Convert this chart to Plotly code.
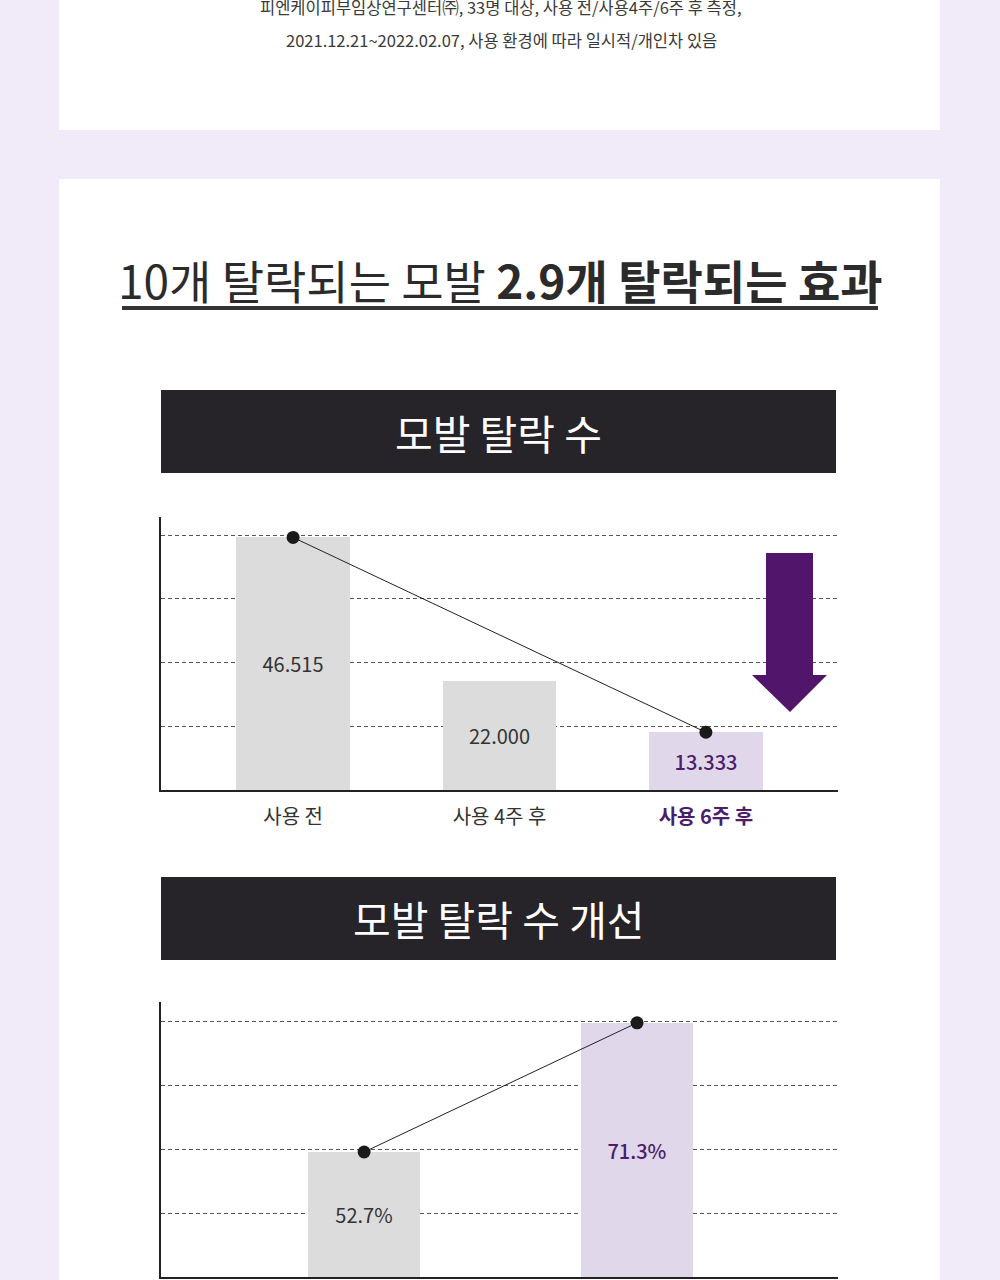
import plotly.graph_objects as go

W, H = 1000, 1280

# ---------------- data / text ----------------
NOTE_LINES = [
    "피엔케이피부임상연구센터㈜, 33명 대상, 사용 전/사용4주/6주 후 측정,",
    "2021.12.21~2022.02.07, 사용 환경에 따라 일시적/개인차 있음",
]
TITLE_REGULAR = "10개 탈락되는 모발"
TITLE_BOLD = "2.9개 탈락되는 효과"
BANNER1 = "모발 탈락 수"
BANNER2 = "모발 탈락 수 개선"

CATS1 = ["사용 전", "사용 4주 후", "사용 6주 후"]
VALS1 = [46.515, 22.000, 13.333]
LABELS1 = ["46.515", "22.000", "13.333"]

CATS2 = ["사용 4주 후", "사용 6주 후"]
VALS2 = [52.7, 71.3]
LABELS2 = ["52.7%", "71.3%"]

# ---------------- styles ----------------
FONT = "Noto Sans CJK KR"
BG = "#F1EBF9"
GRAY_BAR = "#DCDCDC"
LAV_BAR = "#E1D7EA"
PURPLE = "#4B1D6B"
ARROW = "#52156C"
DARK = "#262329"
TXT = "#333333"

Y1_FLOOR, Y1_TOP = 3.5, 50.0
Y2_FLOOR, Y2_TOP = 34.7, 74.3


def px(x):
    return x / W


def py(y):
    return 1 - y / H


fig = go.Figure()

# chart 1 bars
fig.add_trace(go.Bar(
    x=CATS1, y=[v - Y1_FLOOR for v in VALS1], base=Y1_FLOOR,
    marker=dict(color=[GRAY_BAR, GRAY_BAR, LAV_BAR], line=dict(width=0)),
    width=0.55,
    text=LABELS1, textposition="inside", insidetextanchor="middle", textangle=0,
    textfont=dict(family=FONT, size=20, color=[TXT, TXT, PURPLE], weight=[400, 400, 500]),
    xaxis="x", yaxis="y", hoverinfo="skip",
))
fig.add_trace(go.Scatter(
    x=[CATS1[0], CATS1[2]], y=[VALS1[0], VALS1[2]],
    mode="lines+markers", line=dict(color="#222222", width=1),
    marker=dict(size=13, color="#1a1a1a"), cliponaxis=False,
    xaxis="x", yaxis="y", hoverinfo="skip",
))

# chart 2 bars
fig.add_trace(go.Bar(
    x=CATS2, y=[v - Y2_FLOOR for v in VALS2], base=Y2_FLOOR,
    marker=dict(color=[GRAY_BAR, LAV_BAR], line=dict(width=0)),
    width=0.41,
    text=LABELS2, textposition="inside", insidetextanchor="middle", textangle=0,
    textfont=dict(family=FONT, size=20, color=[TXT, PURPLE], weight=[400, 500]),
    xaxis="x2", yaxis="y2", hoverinfo="skip",
))
fig.add_trace(go.Scatter(
    x=CATS2, y=VALS2,
    mode="lines+markers", line=dict(color="#222222", width=1),
    marker=dict(size=13, color="#1a1a1a"), cliponaxis=False,
    xaxis="x2", yaxis="y2", hoverinfo="skip",
))

ticktext1 = [CATS1[0], CATS1[1], f"<span style='color:{PURPLE}'><b>{CATS1[2]}</b></span>"]

common_y = dict(
    showline=True, linecolor="#222222", linewidth=1.5,
    showgrid=True, gridcolor="#555555", gridwidth=1, griddash="4px,3px",
    tickmode="linear", showticklabels=False, ticks="", zeroline=False,
    fixedrange=True,
)

fig.update_layout(
    width=W, height=H, autosize=False,
    margin=dict(l=0, r=0, t=0, b=0),
    paper_bgcolor=BG, plot_bgcolor="rgba(0,0,0,0)",
    showlegend=False, bargap=0,
    font=dict(family=FONT, color=TXT),
    xaxis=dict(
        domain=[px(161), px(838)], range=[-0.64, 2.64], type="category",
        anchor="y", showline=True, linecolor="#222222", linewidth=2,
        showgrid=False, ticks="outside", ticklen=8, tickcolor="rgba(0,0,0,0)",
        tickvals=CATS1, ticktext=ticktext1,
        tickfont=dict(family=FONT, size=20, color=TXT), fixedrange=True,
    ),
    yaxis=dict(
        domain=[py(790), py(517)], range=[Y1_FLOOR, Y1_TOP], anchor="x",
        tick0=Y1_FLOOR, dtick=10.85, **common_y,
    ),
    xaxis2=dict(
        domain=[px(161), px(838)], range=[-0.744, 1.736], type="category",
        anchor="y2", showline=True, linecolor="#222222", linewidth=2,
        showgrid=False, showticklabels=False, ticks="", fixedrange=True,
    ),
    yaxis2=dict(
        domain=[py(1277), py(1002)], range=[Y2_FLOOR, Y2_TOP], anchor="x2",
        tick0=Y2_FLOOR, dtick=9.2, **common_y,
    ),
)

shapes = []
# white panels
shapes.append(dict(type="rect", xref="paper", yref="paper", layer="below",
                   x0=px(59), x1=px(940), y0=py(130), y1=py(-5),
                   fillcolor="white", line=dict(width=0)))
shapes.append(dict(type="rect", xref="paper", yref="paper", layer="below",
                   x0=px(59), x1=px(940), y0=py(1285), y1=py(179),
                   fillcolor="white", line=dict(width=0)))
# title underline
shapes.append(dict(type="rect", xref="paper", yref="paper",
                   x0=px(122), x1=px(878), y0=py(310), y1=py(306),
                   fillcolor="#333333", line=dict(width=0)))
# banners
for top in (390, 877):
    shapes.append(dict(type="rect", xref="paper", yref="paper",
                       x0=px(161), x1=px(836), y0=py(top + 83), y1=py(top),
                       fillcolor=DARK, line=dict(width=0)))
# decorative down arrow
pts = [(766, 553), (813, 553), (813, 675), (827, 675), (790, 712), (752, 675), (766, 675)]
path = "M " + " L ".join(f"{px(x):.4f},{py(y):.4f}" for x, y in pts) + " Z"
shapes.append(dict(type="path", xref="paper", yref="paper", path=path,
                   fillcolor=ARROW, line=dict(width=0)))
fig.update_layout(shapes=shapes)

ann = []
for text, y in zip(NOTE_LINES, (7, 40)):
    ann.append(dict(text=text, x=0.5015, y=py(y), xref="paper", yref="paper",
                    xanchor="center", yanchor="middle", showarrow=False,
                    font=dict(family=FONT, size=16.5, color="#3a3a3a")))
ann.append(dict(text=f"{TITLE_REGULAR} <b>{TITLE_BOLD}</b>", x=0.5, y=py(279),
                xref="paper", yref="paper", xanchor="center", yanchor="middle",
                showarrow=False, font=dict(family=FONT, size=46, color="#2b2b2b")))
for text, y in ((BANNER1, 432), (BANNER2, 918)):
    ann.append(dict(text=text, x=0.4985, y=py(y), xref="paper", yref="paper",
                    xanchor="center", yanchor="middle", showarrow=False,
                    font=dict(family=FONT, size=41, color="white")))
fig.update_layout(annotations=ann)

fig.write_html("out.html", config={"displayModeBar": False})
